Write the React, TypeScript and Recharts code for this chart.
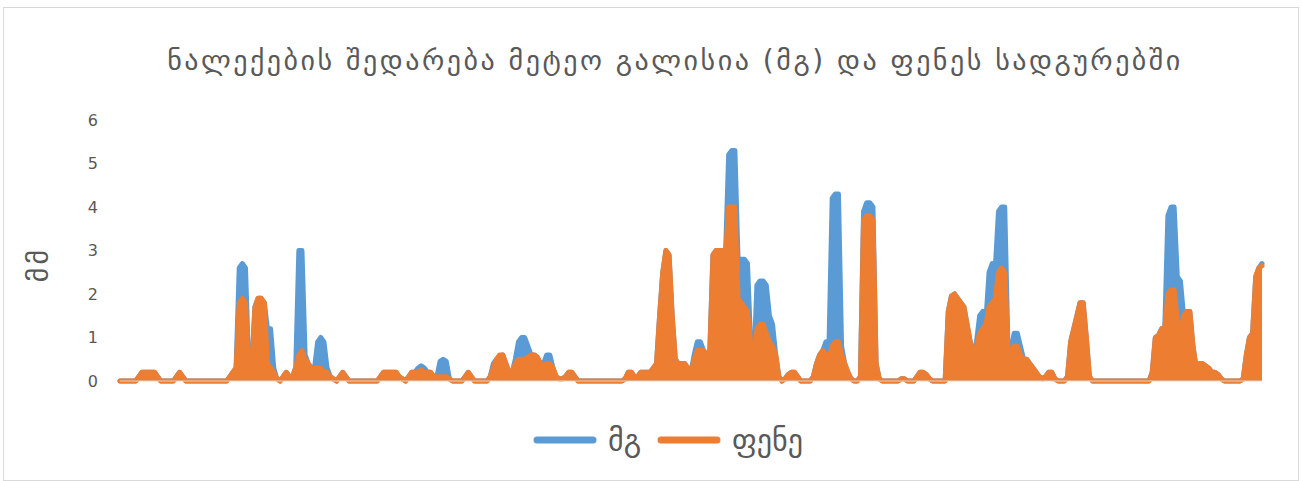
import { AreaChart, Area, XAxis, YAxis, Legend } from 'recharts'

// daily precipitation, mm, one row = 10 days
const mg = [
  0, 0, 0, 0, 0, 0, 0.1, 0.2, 0.2, 0.2,
  0.2, 0.2, 0.1, 0, 0, 0, 0, 0, 0.1, 0.2,
  0.1, 0, 0, 0, 0, 0, 0, 0, 0, 0,
  0, 0, 0, 0, 0, 0.1, 0.2, 0.3, 2.6, 2.7,
  2.6, 0.4, 0.3, 1.7, 1.9, 1.9, 1.8, 1.2, 1.2, 0.3,
  0.05, 0, 0.1, 0.2, 0.1, 0.1, 0.3, 3.0, 3.0, 0.6,
  0.4, 0.3, 0.3, 0.9, 1.0, 0.9, 0.3, 0.1, 0.05, 0,
  0.1, 0.2, 0.1, 0, 0, 0, 0, 0, 0, 0,
  0, 0, 0, 0.1, 0.2, 0.2, 0.2, 0.2, 0.2, 0.1,
  0.05, 0, 0.1, 0.2, 0.2, 0.3, 0.35, 0.3, 0.2, 0.2,
  0.1, 0.1, 0.45, 0.5, 0.45, 0.05, 0, 0, 0, 0,
  0.1, 0.2, 0.1, 0, 0, 0, 0, 0, 0.1, 0.4,
  0.5, 0.5, 0.6, 0.4, 0.2, 0.2, 0.5, 0.9, 1.0, 1.0,
  0.8, 0.6, 0.6, 0.55, 0.4, 0.4, 0.6, 0.6, 0.3, 0.1,
  0.05, 0.05, 0.1, 0.2, 0.2, 0.1, 0, 0, 0, 0,
  0, 0, 0, 0, 0, 0, 0, 0, 0, 0,
  0, 0.05, 0.2, 0.2, 0.1, 0.1, 0.2, 0.2, 0.2, 0.2,
  0.3, 0.4, 1.5, 2.5, 3.0, 2.9, 1.5, 0.5, 0.4, 0.4,
  0.4, 0.3, 0.2, 0.6, 0.9, 0.9, 0.7, 0.6, 0.7, 2.9,
  3.0, 3.0, 3.0, 2.9, 5.2, 5.3, 5.3, 2.8, 2.8, 2.8,
  2.7, 0.9, 0.3, 2.2, 2.3, 2.3, 2.2, 1.5, 1.3, 0.6,
  0.1, 0, 0.05, 0.15, 0.2, 0.2, 0.1, 0, 0, 0,
  0, 0.1, 0.4, 0.6, 0.7, 0.9, 0.9, 4.2, 4.3, 4.3,
  0.8, 0.4, 0.2, 0.05, 0, 0, 0.1, 3.9, 4.1, 4.1,
  4.0, 0.4, 0.05, 0, 0, 0, 0, 0, 0, 0.05,
  0.05, 0, 0, 0, 0.1, 0.2, 0.2, 0.15, 0.05, 0,
  0, 0, 0, 0, 1.6, 1.95, 2.0, 1.9, 1.8, 1.7,
  1.3, 0.9, 0.6, 0.9, 1.5, 1.6, 1.4, 2.5, 2.7, 2.6,
  3.9, 4.0, 4.0, 0.9, 0.7, 1.1, 1.1, 0.8, 0.5, 0.5,
  0.4, 0.3, 0.2, 0.1, 0.05, 0.1, 0.2, 0.2, 0.05, 0,
  0, 0, 0.1, 0.9, 1.2, 1.5, 1.8, 1.8, 1.0, 0.1,
  0, 0, 0, 0, 0, 0, 0, 0, 0, 0,
  0, 0, 0, 0, 0, 0, 0, 0, 0, 0.2,
  1.0, 1.05, 1.2, 1.2, 3.8, 4.0, 4.0, 2.4, 2.3, 1.5,
  1.6, 1.6, 0.8, 0.3, 0.4, 0.4, 0.35, 0.3, 0.2, 0.2,
  0.15, 0.05, 0, 0, 0, 0, 0, 0, 0.05, 0.6,
  1.0, 1.1, 2.4, 2.6, 2.7,
]

const fene = [
  0, 0, 0, 0, 0, 0, 0.1, 0.2, 0.2, 0.2,
  0.2, 0.2, 0.1, 0, 0, 0, 0, 0, 0.1, 0.2,
  0.1, 0, 0, 0, 0, 0, 0, 0, 0, 0,
  0, 0, 0, 0, 0, 0.1, 0.2, 0.3, 1.8, 1.9,
  1.8, 0.3, 0.3, 1.7, 1.9, 1.9, 1.8, 0.4, 0.3, 0.2,
  0.05, 0, 0.1, 0.2, 0.1, 0.1, 0.3, 0.6, 0.7, 0.5,
  0.4, 0.3, 0.3, 0.3, 0.3, 0.2, 0.2, 0.1, 0.05, 0,
  0.1, 0.2, 0.1, 0, 0, 0, 0, 0, 0, 0,
  0, 0, 0, 0.1, 0.2, 0.2, 0.2, 0.2, 0.2, 0.1,
  0.05, 0, 0.1, 0.2, 0.2, 0.2, 0.25, 0.2, 0.2, 0.2,
  0.1, 0.1, 0.1, 0.1, 0.1, 0.05, 0, 0, 0, 0,
  0.1, 0.2, 0.1, 0, 0, 0, 0, 0, 0.1, 0.3,
  0.5, 0.6, 0.6, 0.4, 0.2, 0.2, 0.4, 0.5, 0.5, 0.5,
  0.55, 0.6, 0.6, 0.55, 0.4, 0.35, 0.4, 0.4, 0.3, 0.1,
  0.05, 0.05, 0.1, 0.2, 0.2, 0.1, 0, 0, 0, 0,
  0, 0, 0, 0, 0, 0, 0, 0, 0, 0,
  0, 0.05, 0.2, 0.2, 0.1, 0.1, 0.2, 0.2, 0.2, 0.2,
  0.3, 0.4, 1.5, 2.5, 3.0, 2.9, 1.5, 0.5, 0.4, 0.4,
  0.4, 0.3, 0.2, 0.5, 0.7, 0.7, 0.7, 0.6, 0.7, 2.9,
  3.0, 3.0, 3.0, 2.9, 4.0, 4.0, 4.0, 1.9, 1.8, 1.7,
  1.6, 0.9, 0.3, 1.2, 1.3, 1.3, 1.1, 0.9, 0.8, 0.6,
  0.1, 0, 0.05, 0.15, 0.2, 0.2, 0.1, 0, 0, 0,
  0, 0.1, 0.4, 0.6, 0.7, 0.6, 0.5, 0.8, 0.9, 0.9,
  0.6, 0.4, 0.2, 0.05, 0, 0, 0.1, 3.7, 3.8, 3.8,
  3.7, 0.4, 0.05, 0, 0, 0, 0, 0, 0, 0.05,
  0.05, 0, 0, 0, 0.1, 0.2, 0.2, 0.15, 0.05, 0,
  0, 0, 0, 0, 1.6, 1.95, 2.0, 1.9, 1.8, 1.7,
  1.3, 0.9, 0.6, 0.8, 1.1, 1.2, 1.3, 1.7, 1.8, 1.9,
  2.5, 2.6, 2.5, 0.8, 0.6, 0.8, 0.8, 0.6, 0.5, 0.5,
  0.4, 0.3, 0.2, 0.1, 0.05, 0.1, 0.2, 0.2, 0.05, 0,
  0, 0, 0.1, 0.9, 1.2, 1.5, 1.8, 1.8, 1.0, 0.1,
  0, 0, 0, 0, 0, 0, 0, 0, 0, 0,
  0, 0, 0, 0, 0, 0, 0, 0, 0, 0.2,
  1.0, 1.05, 1.2, 1.2, 2.0, 2.1, 2.1, 1.4, 1.0, 1.5,
  1.6, 1.6, 0.8, 0.3, 0.4, 0.4, 0.35, 0.3, 0.2, 0.2,
  0.15, 0.05, 0, 0, 0, 0, 0, 0, 0.05, 0.6,
  1.0, 1.1, 2.4, 2.6, 2.65,
]

const days = mg.map((_, i) => i + 1)
const yTicks = [0, 1, 2, 3, 4, 5, 6]

const COLORS = { mg: '#5B9BD5', fene: '#ED7D31' }
const TEXT = '#595959'
const FONT = '"DejaVu Sans", "Noto Sans", sans-serif'

const data = days.map((d, i) => ({ day: d, mg: mg[i], fene: fene[i] }))

const legendItems = [
  { key: 'mg' as const, label: 'მგ' },
  { key: 'fene' as const, label: 'ფენე' },
]

const renderLegend = () => (
  <div style={{ height: 40, width: 1302, paddingLeft: 50, boxSizing: 'border-box', display: 'flex', justifyContent: 'center', alignItems: 'center', fontFamily: FONT, fontSize: 30, color: TEXT }}>
    {legendItems.map((it) => (
      <div key={it.key} style={{ display: 'flex', alignItems: 'center', marginRight: 16 }}>
        <svg width={64} height={10} style={{ marginRight: 11 }}>
          <line x1={4} y1={5} x2={60} y2={5} stroke={COLORS[it.key]} strokeWidth={7} strokeLinecap="round" />
        </svg>
        <span>{it.label}</span>
      </div>
    ))}
  </div>
)

const renderYLabel = (props: any) => {
  const vb = props.viewBox || {}
  const cx = vb.x + 8
  const cy = vb.y + vb.height / 2 + 14
  return (
    <text x={cx} y={cy} transform={`rotate(-90, ${cx}, ${cy})`} textAnchor="middle" dominantBaseline="central" fontSize={28} letterSpacing={3} fill={TEXT} fontFamily={FONT}>
      მმ
    </text>
  )
}

export default function App() {
  return (
    <div style={{ position: 'absolute', left: 0, top: 0, width: 1302, height: 481, background: '#fff' }}>
      <div style={{ position: 'absolute', left: 3, top: 7, width: 1294, height: 472, border: '1px solid #d9d9d9' }} />
      <div style={{ position: 'absolute', left: 0, top: 44, width: 1350, textAlign: 'center', fontFamily: FONT, fontSize: 28, letterSpacing: 2.5, color: TEXT, whiteSpace: 'nowrap' }}>
        ნალექების შედარება მეტეო გალისია (მგ) და ფენეს სადგურებში
      </div>
      <div style={{ position: 'absolute', left: 0, top: 0 }}>
        <AreaChart width={1302} height={481} data={data} margin={{ top: 120, right: 40, bottom: 21, left: 30 }}>
          <XAxis dataKey="day" tick={false} tickLine={false} height={39} axisLine={{ stroke: '#d9d9d9' }} />
          <YAxis
            domain={[0, 6]}
            ticks={yTicks}
            width={90}
            axisLine={false}
            tickLine={false}
            tickMargin={16}
            tick={{ fontSize: 16, fill: TEXT, fontFamily: FONT }}
            label={{ content: renderYLabel }}
          />
          <Area type="linear" dataKey="mg" name="მგ" stroke={COLORS.mg} strokeWidth={5} fill={COLORS.mg} fillOpacity={1} strokeLinejoin="round" strokeLinecap="round" isAnimationActive={false} />
          <Area type="linear" dataKey="fene" name="ფენე" stroke={COLORS.fene} strokeWidth={5} fill={COLORS.fene} fillOpacity={1} strokeLinejoin="round" strokeLinecap="round" isAnimationActive={false} />
          <Legend verticalAlign="bottom" height={40} wrapperStyle={{ left: 0, width: 1302 }} content={renderLegend} />
        </AreaChart>
      </div>
    </div>
  )
}
